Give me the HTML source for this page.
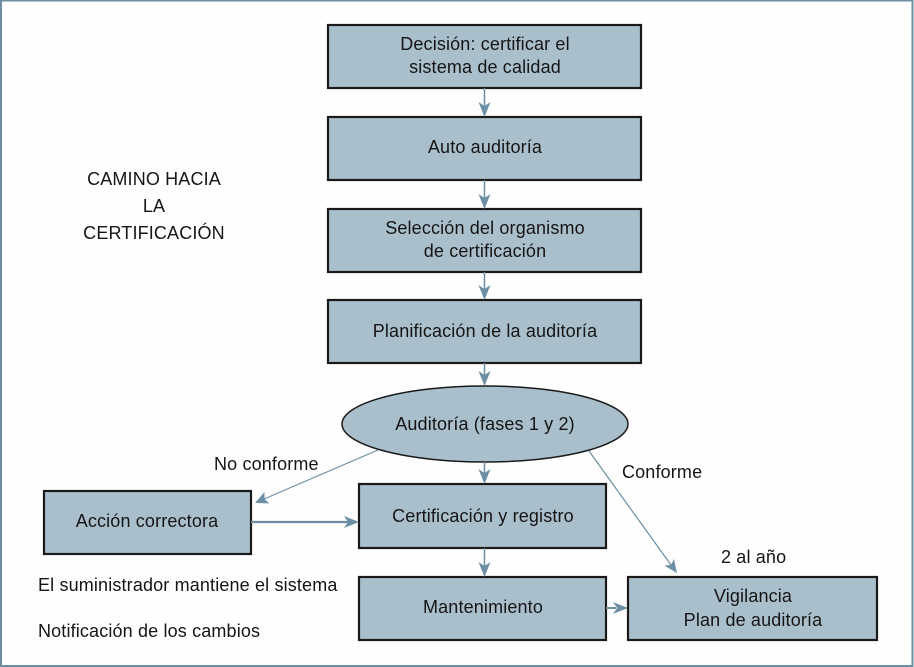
<!DOCTYPE html>
<html><head><meta charset="utf-8"><style>
html,body{margin:0;padding:0;background:#fff;}
svg{display:block;}
text{font-family:"Liberation Sans",Arial,sans-serif;font-size:18px;fill:#151515;letter-spacing:0.15px;}
</style></head><body>
<svg width="914" height="667" viewBox="0 0 914 667" xmlns="http://www.w3.org/2000/svg">
<rect x="0" y="0" width="914" height="667" fill="#fefefe"/>
<rect x="1" y="0.5" width="911.5" height="665.5" fill="none" stroke="#6d8fa3" stroke-width="2"/>

<g fill="#aabfcc" stroke="#1a1a1a" stroke-width="2.2">
<rect x="328" y="25" width="313" height="63"/>
<rect x="328" y="117" width="313" height="63"/>
<rect x="328" y="209" width="313" height="63"/>
<rect x="328" y="300" width="313" height="63"/>
<ellipse cx="485" cy="424" rx="143" ry="38" stroke-width="1.5"/>
<rect x="359" y="484" width="247" height="64"/>
<rect x="359" y="577" width="247" height="63"/>
<rect x="628" y="577" width="249" height="63"/>
<rect x="44" y="491" width="207" height="63"/>
</g>

<g stroke="#6d8fa3" fill="none">
<line x1="484.5" y1="88" x2="484.5" y2="106" stroke-width="1.5"/>
<line x1="484.5" y1="180" x2="484.5" y2="198" stroke-width="1.5"/>
<line x1="484.5" y1="272" x2="484.5" y2="289" stroke-width="1.5"/>
<line x1="484.5" y1="363" x2="484.5" y2="375" stroke-width="1.5"/>
<line x1="484.5" y1="462" x2="484.5" y2="473" stroke-width="1.5"/>
<line x1="484.5" y1="548" x2="484.5" y2="566" stroke-width="1.5"/>
<line x1="606" y1="608" x2="616" y2="608" stroke-width="2"/>
<line x1="251" y1="522" x2="348" y2="522" stroke-width="2.2"/>
<line x1="378" y1="450" x2="264" y2="499" stroke-width="1.2"/>
<line x1="589" y1="451" x2="671" y2="565" stroke-width="1.2"/>
</g>
<g fill="#6d8fa3">
<path d="M484.5 117 L478.5 102 L484.5 106 L490.5 102 Z"/>
<path d="M484.5 209 L478.5 194 L484.5 198 L490.5 194 Z"/>
<path d="M484.5 300 L478.5 285 L484.5 289 L490.5 285 Z"/>
<path d="M484.5 386 L478.5 371 L484.5 375 L490.5 371 Z"/>
<path d="M484.5 484 L478.5 469 L484.5 473 L490.5 469 Z"/>
<path d="M484.5 577 L478.5 562 L484.5 566 L490.5 562 Z"/>
<path d="M628 608 L613 602 L617 608 L613 614 Z"/>
<path d="M359 522 L344 516 L348 522 L344 528 Z"/>
<path d="M255 503 L264.5 492 L264.5 499 L269.3 503.4 Z"/>
<path d="M677 573 L664.4 565.6 L671 565 L674 559 Z"/>
</g>

<g text-anchor="middle">
<text x="485" y="50">Decisión: certificar el</text>
<text x="485" y="73">sistema de calidad</text>
<text x="485" y="153">Auto auditoría</text>
<text x="485" y="234">Selección del organismo</text>
<text x="485" y="257">de certificación</text>
<text x="485" y="337">Planificación de la auditoría</text>
<text x="485" y="430">Auditoría (fases 1 y 2)</text>
<text x="483" y="522">Certificación y registro</text>
<text x="483" y="613">Mantenimiento</text>
<text x="753" y="602">Vigilancia</text>
<text x="753" y="626">Plan de auditoría</text>
<text x="147" y="527">Acción correctora</text>
<text x="154" y="185">CAMINO HACIA</text>
<text x="154" y="212">LA</text>
<text x="154" y="239">CERTIFICACIÓN</text>
</g>
<text x="214" y="470">No conforme</text>
<text x="622" y="478">Conforme</text>
<text x="721" y="563">2 al año</text>
<text x="38" y="591">El suministrador mantiene el sistema</text>
<text x="38" y="637">Notificación de los cambios</text>
</svg>
</body></html>
